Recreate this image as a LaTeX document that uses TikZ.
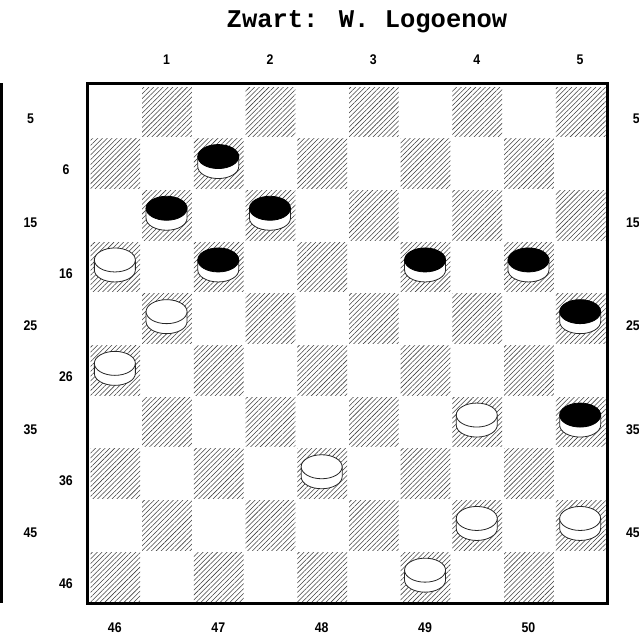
\documentclass[tikz,border=0pt]{standalone}
\usepackage{fontspec}
\usepackage{graphicx}
\usetikzlibrary{patterns.meta}
\newfontfamily\titlefont{Liberation Mono}
\newfontfamily\labelfont{Liberation Sans}
\newcommand\narrowlbl[1]{\scalebox{0.88}[1]{#1}}
\tikzset{
  hatch/.style={pattern={Lines[angle=45, distance=3.4pt, line width=0.55pt]}, pattern color=black!75},
  frame/.style={line width=3pt},
  title/.style={font=\titlefont\bfseries\fontsize{25.5}{26}\selectfont, inner sep=0},
  lbl/.style={font=\labelfont\bfseries\fontsize{14}{14}\selectfont, inner sep=0},
  rim/.style={draw=black!85, line width=0.8pt, fill=white},
  btop/.style={draw=black, line width=0.8pt, fill=black},
  wtop/.style={draw=black!85, line width=0.8pt, fill=white},
  disc/.pic={
    \path[rim] (-20.5,0) -- (-20.5,10)
      arc[start angle=180, end angle=360, x radius=20.5pt, y radius=12pt]
      -- (20.5,0) -- cycle;
    \path[#1] (0,0) ellipse[x radius=20.5pt, y radius=12pt];
  },
}
\begin{document}
\begin{tikzpicture}[x=1pt,y=-1pt]
\useasboundingbox (0,0) rectangle (639,635);
% squares
\foreach \r in {0,...,9}{
  \pgfmathtruncatemacro\s{mod(\r+1,2)}
  \foreach \k in {0,...,4}{
    \pgfmathtruncatemacro\c{\s+2*\k}
    \path[hatch] ({89+51.7*\c+1.5},{85+51.7*\r+2}) rectangle ({89+51.7*(\c+1)-0.5},{85+51.7*(\r+1)});
  }
}
% frame
\draw[frame] (87.5,83.5) rectangle (607.5,603.5);
\draw[frame] (1.5,83) -- (1.5,603);
% title
\node[title] (title) at (367,22) {Zwart: W. Logoenow};
% top labels
\foreach \n/\c in {1/1,2/3,3/5,4/7,5/9}{
  \node[lbl] (top\n) at ({89+51.7*(\c+0.5)},60) {\narrowlbl{\n}};
}
% bottom labels
\foreach \n/\c in {46/0,47/2,48/4,49/6,50/8}{
  \node[lbl] (bot\n) at ({89+51.7*(\c+0.5)},628) {\narrowlbl{\n}};
}
% side labels
\foreach \n/\k in {5/0,15/1,25/2,35/3,45/4}{
  \node[lbl] (lo\n) at (30.5,{119+103.4*\k}) {\narrowlbl{\n}};
  \node[lbl, anchor=east] (ro\n) at (640,{119+103.4*\k}) {\narrowlbl{\n}};
}
\foreach \n/\k in {6/0,16/1,26/2,36/3,46/4}{
  \node[lbl] (li\n) at (66,{170+103.4*\k}) {\narrowlbl{\n}};
}
% pieces
\foreach \r/\c/\t in {1/2/btop,2/1/btop,2/3/btop,3/0/wtop,3/2/btop,3/6/btop,3/8/btop,
  4/1/wtop,4/9/btop,5/0/wtop,6/7/wtop,6/9/btop,7/4/wtop,8/7/wtop,8/9/wtop,9/6/wtop}{
  \pic at ({89+51.7*(\c+0.5)},{85+51.7*(\r+0.5)-6}) {disc=\t};
}
\end{tikzpicture}
\end{document}
